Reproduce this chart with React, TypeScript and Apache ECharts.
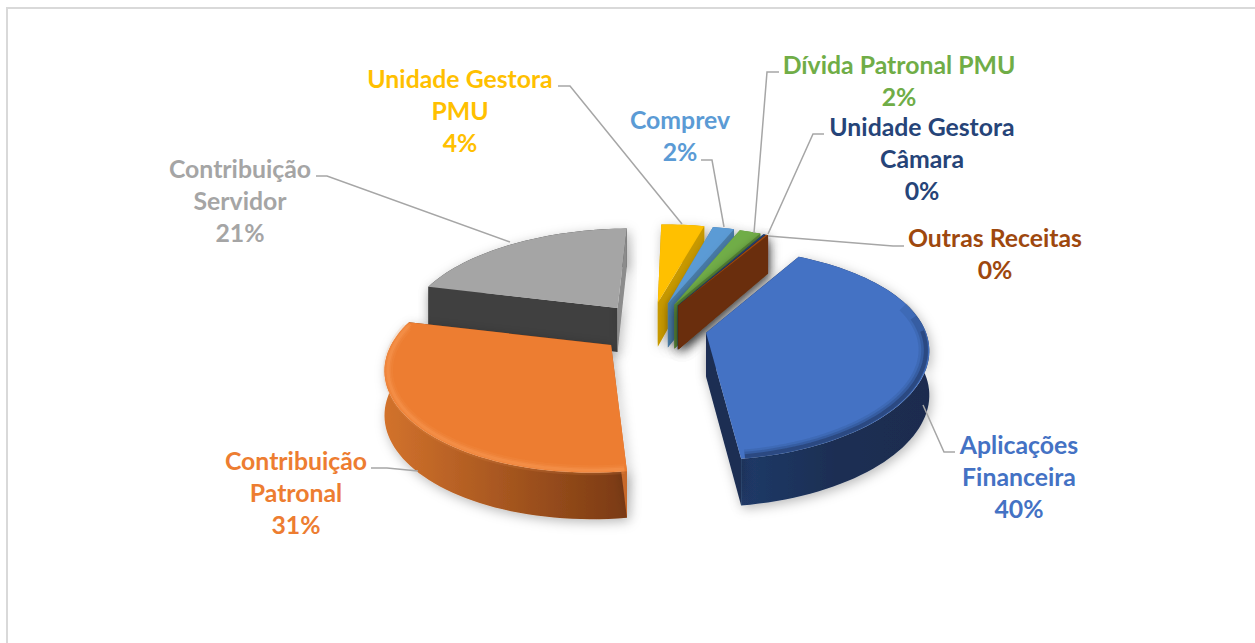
import React, { useEffect, useRef } from "react";
import * as echarts from "echarts";

const categories = [
  "Aplicações Financeira",
  "Contribuição Patronal",
  "Contribuição Servidor",
  "Unidade Gestora PMU",
  "Comprev",
  "Dívida Patronal PMU",
  "Unidade Gestora Câmara",
  "Outras Receitas",
];
const values = [40, 31, 21, 4, 2, 2, 0.2, 0.2];
const labelLines = [
  ["Aplicações", "Financeira"],
  ["Contribuição", "Patronal"],
  ["Contribuição", "Servidor"],
  ["Unidade Gestora", "PMU"],
  ["Comprev"],
  ["Dívida Patronal PMU"],
  ["Unidade Gestora", "Câmara"],
  ["Outras Receitas"],
];
const topColors = ["#4472C4", "#ED7D31", "#A5A5A5", "#FFC000", "#5B9BD5", "#70AD47", "#264478", "#9E480E"];
const labelColors = ["#4472C4", "#ED7D31", "#A5A5A5", "#FFC000", "#5B9BD5", "#70AD47", "#264478", "#9E480E"];
const startFaces = ["#1B2E53", "#C8692A", "#404040", "#C99A00", "#4A7CA8", "#5A8A39", "#1E3660", "#6B2F09"];
const endFaces = ["#1B2E53", "#7A3A13", "#8C8C8C", "#C99A00", "#4A7CA8", "#5A8A39", "#1E3660", "#6B2F09"];
const drawOrder = [2, 3, 4, 5, 6, 7, 1, 0];

// label centre x, first-line centre y
const labelPos = [
  [1019, 444], [296, 460], [240, 168], [460, 78], [680, 119], [899, 64], [922, 126], [995, 237],
];
const leaders = [
  [[955, 452], [944, 452], [923, 405]],
  [[371, 468], [387, 468], [418, 471]],
  [[316, 176], [327, 176], [510, 242]],
  [[558, 86], [570, 86], [682, 224]],
  [[701, 160], [712, 160], [724, 227]],
  [[779, 72], [767, 72], [754, 233]],
  [[824, 134], [813, 134], [768, 234]],
  [[904, 246], [893, 246], [768, 236]],
];
const cedillaX = [576, 855];

const CX = 652, CY = 328, VX = 705, A = 102, C = 220, PERSP = 0.2, PERSP_X = 0.17, EXPLODE = 0.25, FAR = 0.35, DEPTH = 44;
const START = 29;
const total = values.reduce((s, v) => s + v, 0);
const rad = (d: number) => (d * Math.PI) / 180;

function sliceAngles(i: number) {
  const before = values.slice(0, i).reduce((s, v) => s + v, 0);
  return [START + (before / total) * 360, START + ((before + values[i]) / total) * 360];
}

function makeGeom(i: number) {
  const [s, e] = sliceAngles(i);
  const m = (s + e) / 2;
  const ax = CX + C * EXPLODE * Math.sin(rad(m));
  const ay = CY - A * EXPLODE * Math.cos(rad(m));
  const k = 1 / (1 + FAR * EXPLODE * Math.max(0, Math.cos(rad(m))));
  const pt = (r: number, t: number) => {
    const X = r * Math.sin(rad(t)), Y = r * Math.cos(rad(t));
    return [VX + (ax - VX + k * C * X) / (1 + PERSP_X * Y), ay - (k * A * Y) / (1 + PERSP * Y)];
  };
  const down = (p: number[], r: number, t: number) => {
    const Y = r * Math.cos(rad(t));
    return [p[0], p[1] + DEPTH * k * (1 - 0.06 * Y)];
  };
  const arc = (r: number, a: number, b: number) => {
    const n = Math.max(2, Math.ceil(Math.abs(b - a) / 2));
    const out: number[][] = [];
    for (let j = 0; j <= n; j++) out.push(pt(r, a + ((b - a) * j) / n));
    return out;
  };
  return { s, e, apex: [ax, ay], pt, down, arc };
}

function renderItem(params: any, api: any) {
  const i = api.value(0);
  const g = makeGeom(i);
  const { s, e, apex } = g;
  const apexD = [apex[0], apex[1] + DEPTH];
  const top = g.arc(1, s, e);
  const wallBottom = top.map((p, j) => g.down(p, 1, s + ((e - s) * j) / (top.length - 1))).reverse();
  const shadow = { shadowBlur: 12, shadowColor: "rgba(0,0,0,0.28)", shadowOffsetX: 2, shadowOffsetY: 3 };
  let wallFill: any = startFaces[i];
  if (i === 1) {
    wallFill = new echarts.graphic.LinearGradient(0, 0, 1, 0, [
      { offset: 0, color: "#D2722C" },
      { offset: 1, color: "#7A3A13" },
    ]);
  } else if (i === 0) {
    wallFill = new echarts.graphic.LinearGradient(0, 0, 1, 0, [
      { offset: 0, color: "#203A68" },
      { offset: 0.5, color: "#1B2E53" },
      { offset: 1, color: "#1A2C4F" },
    ]);
  }
  const poly = (points: number[][], style: any, extra: any = {}) => ({
    type: "polygon",
    shape: { points },
    style: { ...style, ...extra },
    silent: true,
  });
  const line = (points: number[][], stroke: string, lineWidth: number, opacity = 1) => ({
    type: "polyline",
    shape: { points },
    style: { stroke, lineWidth, fill: "none", opacity },
    silent: true,
  });
  const startTop = g.pt(1, s), endTop = g.pt(1, e);
  const children: any[] = [
    poly([...top, ...wallBottom], { fill: wallFill }, shadow),
    poly([apex, startTop, g.down(startTop, 1, s), apexD], { fill: startFaces[i] }, shadow),
    poly([apex, endTop, g.down(endTop, 1, e), apexD], { fill: endFaces[i] }, shadow),
    poly([apex, ...top], { fill: topColors[i] }),
  ];
  if (i === 1) {
    children.push(line(g.arc(0.985, s + 0.5, e - 3), "#F99A55", 10, 0.14));
    children.push(line(g.arc(0.985, s + 0.5, e - 2), "#F99A55", 6, 0.22));
    children.push(line(g.arc(0.985, s + 0.5, e - 1), "#FA9A55", 3, 0.35));
  }
  if (i === 0) {
    children.push(line(g.arc(0.975, s + 45, e - 1), "#1B2E53", 10, 0.12));
    children.push(line(g.arc(0.98, s + 52, e - 1), "#1B2E53", 7, 0.2));
    children.push(line(g.arc(0.985, s + 60, e - 1), "#1B2E53", 4, 0.4));
  }
  return { type: "group", children };
}

const pct = (v: number) => `${Math.round((v / total) * 100)}%`;

export default function App() {
  const ref = useRef<HTMLDivElement>(null);
  useEffect(() => {
    document.body.style.margin = "0";
    const chart = echarts.init(ref.current!, null, { renderer: "svg" });
    const graphics: any[] = [
      {
        type: "polyline",
        silent: true,
        z: 1,
        shape: { points: [[7, 643], [7, 8], [1255, 8]] },
        style: { stroke: "#D9D9D9", lineWidth: 2, fill: "none" },
      },
    ];
    cedillaX.forEach((x) =>
      graphics.push({
        type: "text",
        silent: true,
        z: 1,
        x,
        y: -13,
        style: { text: "Ç", font: "bold 19px Lato", fill: "#000", textAlign: "center", textVerticalAlign: "middle" },
      })
    );
    categories.forEach((name, i) => {
      graphics.push({
        type: "polyline",
        silent: true,
        z: 5,
        shape: { points: leaders[i] },
        style: { stroke: "#A6A6A6", lineWidth: 1.5, fill: "none" },
      });
      const lines = [...labelLines[i], pct(values[i])];
      lines.forEach((t, j) => {
        graphics.push({
          type: "text",
          silent: true,
          z: 6,
          x: labelPos[i][0],
          y: labelPos[i][1] + j * 32,
          style: {
            text: t,
            font: "bold 24.8px Lato",
            fill: labelColors[i],
            textAlign: "center",
            textVerticalAlign: "middle",
          },
        });
      });
    });
    chart.setOption({
      animation: false,
      backgroundColor: "#FFFFFF",
      graphic: graphics,
      series: [
        {
          type: "custom",
          coordinateSystem: "none",
          renderItem,
          silent: true,
          z: 3,
          data: drawOrder.map((i) => ({ name: categories[i], value: [i, values[i]] })),
        },
      ],
    });
    return () => chart.dispose();
  }, []);
  return <div ref={ref} style={{ width: 1255, height: 643 }} />;
}
